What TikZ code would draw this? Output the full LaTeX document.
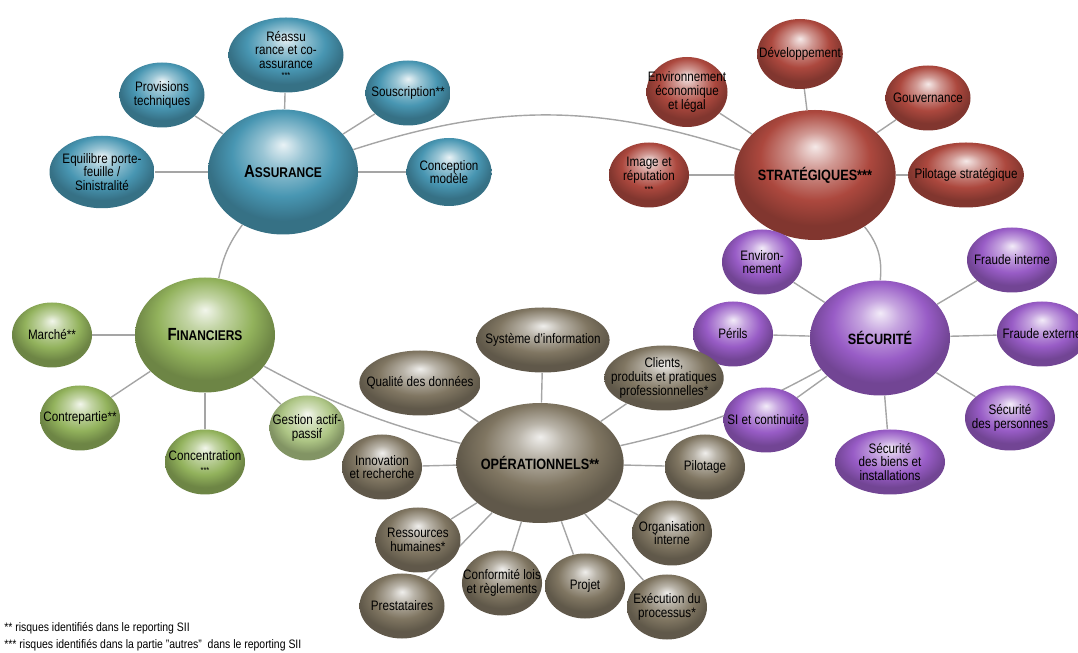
\documentclass[tikz,border=0pt]{standalone}
\usepackage{fontspec}
\setmainfont{Liberation Sans}[FakeStretch=0.85]
\usepackage{tikz}
\usetikzlibrary{shapes.geometric, backgrounds}
\definecolor{bleuA}{RGB}{72, 150, 178}
\definecolor{rougeS}{RGB}{172, 72, 62}
\definecolor{violetS}{RGB}{152, 92, 198}
\definecolor{vertF}{RGB}{146, 178, 92}
\definecolor{bruneO}{RGB}{128, 118, 98}
\definecolor{gris}{RGB}{165, 165, 165}
\colorlet{sphcol}{gray}
\pgfdeclareradialshading[sphcol]{sphere}{\pgfqpoint{0bp}{11bp}}{%
    color(0bp)=(sphcol!12!white); color(7bp)=(sphcol!55!white);
    color(17bp)=(sphcol); color(25bp)=(sphcol!75!black); color(50bp)=(sphcol!75!black)}
\newcommand{\pcap}[2]{{\fontsize{10}{10}\selectfont #1}{\fontsize{8}{8}\selectfont #2}}
\tikzset{
    sph/.style={/utils/exec={\colorlet{sphcol}{#1}}, shading=sphere},
    hub/.style={ellipse, inner sep=0pt, text=black, font=\bfseries\fontsize{8.5}{9}\selectfont, minimum width=2.9cm, minimum height=2.4cm},
    leaf/.style={ellipse, inner ysep=0pt, inner xsep=-6pt, text=black, align=center, font=\fontsize{7.8}{7.8}\selectfont, minimum width=1.6cm, minimum height=1.3cm},
    conn/.style={-, gris, line width=0.8pt},
    note/.style={anchor=west, inner sep=0pt, font=\fontsize{7}{8}\selectfont},
}
\begin{document}
\begin{tikzpicture}
    \useasboundingbox (0,0) rectangle (21.56,-13.06);

    % assurance
    \node[hub, sph=bleuA, minimum width=3cm, minimum height=2.5cm] (ass) at (5.66,-3.44) {\pcap{A}{SSURANCE}};
    \node[leaf, sph=bleuA, minimum width=2.3cm, minimum height=1.5cm] (reas) at (5.72,-1.1) {Réassu\\rance et co-\\assurance\\[-2pt]{\fontsize{5}{5}\selectfont ***}};
    \node[leaf, sph=bleuA, minimum width=1.7cm] (prov) at (3.24,-1.9) {Provisions\\techniques};
    \node[leaf, sph=bleuA, minimum width=1.7cm] (sous) at (8.16,-1.86) {Souscription**};
    \node[leaf, sph=bleuA, minimum width=2.1cm, minimum height=1.45cm] (equi) at (2.04,-3.44) {Equilibre porte-\\feuille /\\Sinistralité};
    \node[leaf, sph=bleuA, minimum width=1.7cm, minimum height=1.36cm] (conc) at (8.98,-3.44) {Conception\\modèle};

    % strategiques
    \node[hub, sph=rougeS, minimum width=3cm, minimum height=2.6cm] (str) at (16.3,-3.5) {STRATÉGIQUES***};
    \node[leaf, sph=rougeS, minimum height=1.4cm] (dev) at (16.0,-1.08) {Développement};
    \node[leaf, sph=rougeS, minimum height=1.4cm] (envi) at (13.74,-1.84) {Environnement\\économique\\et légal};
    \node[leaf, sph=rougeS, minimum width=1.7cm] (gouv) at (18.56,-1.96) {Gouvernance};
    \node[leaf, sph=rougeS] (imag) at (12.98,-3.5) {Image et\\réputation\\[-1pt]{\fontsize{5}{5}\selectfont ***}};
    \node[leaf, sph=rougeS, minimum width=1.8cm] (pils) at (19.32,-3.5) {Pilotage stratégique};

    % securite
    \node[hub, sph=violetS, minimum width=2.8cm, minimum height=2.3cm] (sec) at (17.6,-6.76) {SÉCURITÉ};
    \node[leaf, sph=violetS] (envs) at (15.24,-5.24) {Environ-\\nement};
    \node[leaf, sph=violetS, minimum width=1.8cm] (frin) at (20.24,-5.2) {Fraude interne};
    \node[leaf, sph=violetS] (peri) at (14.66,-6.68) {Périls};
    \node[leaf, sph=violetS, minimum width=1.8cm] (frex) at (20.84,-6.68) {Fraude externe};
    \node[leaf, sph=violetS, minimum width=1.7cm] (sico) at (15.32,-8.4) {SI et continuité};
    \node[leaf, sph=violetS, minimum width=1.8cm] (sepe) at (20.2,-8.36) {Sécurité\\des personnes};
    \node[leaf, sph=violetS, minimum width=2.2cm] (sebi) at (17.8,-9.24) {Sécurité\\des biens et\\installations};

    % financiers
    \node[hub, sph=vertF, minimum width=2.8cm, minimum height=2.3cm] (fin) at (4.1,-6.7) {\pcap{F}{INANCIERS}};
    \node[leaf, sph=vertF] (marc) at (1.04,-6.7) {Marché**};
    \node[leaf, sph=vertF] (cont) at (1.6,-8.36) {Contrepartie**};
    \node[leaf, sph=vertF] (conce) at (4.1,-9.24) {Concentration\\{\fontsize{5}{5}\selectfont ***}};
    \node[leaf, sph=vertF!75!white, minimum width=1.5cm] (gest) at (6.14,-8.56) {Gestion actif-\\passif};

    % operationnels
    \node[hub, sph=bruneO, minimum width=3cm, minimum height=2.4cm] (ope) at (10.8,-9.26) {OPÉRATIONNELS**};
    \node[leaf, sph=bruneO, minimum width=2.3cm] (syst) at (10.86,-6.8) {Système d'information};
    \node[leaf, sph=bruneO, minimum width=1.9cm] (qual) at (8.4,-7.66) {Qualité des données};
    \node[leaf, sph=bruneO] (clie) at (13.28,-7.56) {Clients,\\produits et pratiques\\professionnelles*};
    \node[leaf, sph=bruneO] (inno) at (7.64,-9.34) {Innovation\\et recherche};
    \node[leaf, sph=bruneO] (pilo) at (14.1,-9.34) {Pilotage};
    \node[leaf, sph=bruneO, minimum width=1.7cm] (ress) at (8.36,-10.8) {Ressources\\humaines*};
    \node[leaf, sph=bruneO] (orga) at (13.44,-10.66) {Organisation\\interne};
    \node[leaf, sph=bruneO, minimum width=1.7cm] (pres) at (8.04,-12.12) {Prestataires};
    \node[leaf, sph=bruneO] (conf) at (10.04,-11.66) {Conformité lois\\et règlements};
    \node[leaf, sph=bruneO] (proj) at (11.7,-11.72) {Projet};
    \node[leaf, sph=bruneO] (exec) at (13.34,-12.14) {Exécution du\\processus*};

    \node[note] (not1) at (0.08,-12.56) {** risques identifiés dans le reporting SII};
    \node[note] (not2) at (0.08,-12.9) {*** risques identifiés dans la partie "autres"\ \ dans le reporting SII};

    \begin{scope}[on background layer]
        \draw[conn] (ass) to[bend left=18] (str);
        \draw[conn] (ass) to[bend right=12] (fin);
        \draw[conn] (fin) to[bend right=7] (ope);
        \draw[conn] (ope) to[bend right=8] (sec);
        \draw[conn] (str) to[bend left=22] (sec);

        \draw[conn] (ass) -- (reas);
        \draw[conn] (ass) -- (prov);
        \draw[conn] (ass) -- (sous);
        \draw[conn] (ass) -- (equi);
        \draw[conn] (ass) -- (conc);

        \draw[conn] (str) -- (dev);
        \draw[conn] (str) -- (envi);
        \draw[conn] (str) -- (gouv);
        \draw[conn] (str) -- (imag);
        \draw[conn] (str) -- (pils);

        \draw[conn] (sec) -- (envs);
        \draw[conn] (sec) -- (frin);
        \draw[conn] (sec) -- (peri);
        \draw[conn] (sec) -- (frex);
        \draw[conn] (sec) -- (sico);
        \draw[conn] (sec) -- (sepe);
        \draw[conn] (sec) -- (sebi);

        \draw[conn] (fin) -- (marc);
        \draw[conn] (fin) -- (cont);
        \draw[conn] (fin) -- (conce);
        \draw[conn] (fin) -- (gest);

        \draw[conn] (ope) -- (syst);
        \draw[conn] (ope) -- (qual);
        \draw[conn] (ope) -- (clie);
        \draw[conn] (ope) -- (inno);
        \draw[conn] (ope) -- (pilo);
        \draw[conn] (ope) -- (ress);
        \draw[conn] (ope) -- (orga);
        \draw[conn] (ope) -- (pres);
        \draw[conn] (ope) -- (conf);
        \draw[conn] (ope) -- (proj);
        \draw[conn] (ope) -- (exec);
    \end{scope}
\end{tikzpicture}
\end{document}
